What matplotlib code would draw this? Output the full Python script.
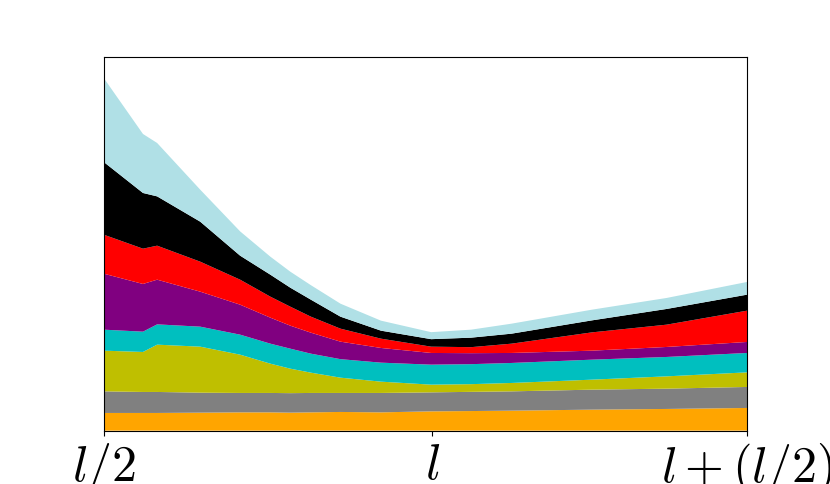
import numpy as np
import matplotlib.pyplot as plt

plt.rcParams['mathtext.fontset'] = 'cm'

# x positions (in units of l)
x = [0.5, 0.561, 0.583, 0.650, 0.712, 0.759, 0.790, 0.822, 0.868,
     0.931, 1.009, 1.071, 1.134, 1.259, 1.375, 1.5]

# upper edge of each layer (stacked, bottom to top)
orange_top = [17.7, 17.7, 17.7, 18, 18.3, 18.3, 18, 18.3, 18.7, 18.3, 19.3, 19.6, 20, 21, 21.7, 22.7]
gray_top = [39.3, 38.7, 38.7, 38, 37.7, 37.7, 37.5, 37.7, 37.7, 37.7, 38.3, 38.8, 39.3, 41, 42, 43.7]
olive_top = [80, 78.7, 86, 84, 76, 67, 62, 58, 53, 49, 46, 46.5, 47.7, 51, 54.3, 58.3]
cyan_top = [101, 99, 106.3, 104, 96, 87, 82, 77, 71.5, 68, 66, 66.5, 67.7, 71, 73.7, 77.7]
purple_top = [157, 146.7, 151, 139, 126, 113, 105, 98, 89, 82.7, 77.7, 77.5, 77.7, 80, 83.7, 88.7]
red_top = [196, 182, 185, 169, 151, 134, 124, 114, 102, 92, 84, 83.5, 87, 98.3, 106, 120]
black_top = [268.7, 237.7, 234.3, 209, 175, 156, 143, 131, 114, 100, 91.5, 93, 97, 110.3, 121.7, 136]
lb_top = [352.7, 296.7, 287.7, 241, 199.3, 174, 159, 145.5, 127, 110, 98.5, 101, 107, 121, 132.7, 148.7]

tick_pos = [0.5, 1.011, 1.5]
tick_labels = [r'$l/2$', r'$l$', r'$l+(l/2)$']

tops = [orange_top, gray_top, olive_top, cyan_top, purple_top, red_top, black_top, lb_top]
colors = ['orange', 'gray', 'y', 'c', 'purple', 'red', 'black', 'powderblue']

# layer thickness from the stacked edges
layers = np.diff(np.vstack([np.zeros(len(x))] + [np.array(t) for t in tops]), axis=0)

fig, ax = plt.subplots(figsize=(8.3, 4.85), dpi=100)
ax.stackplot(x, layers, colors=colors)

ax.set_xlim(0.5, 1.5)
ax.set_ylim(0, 373.5)
ax.set_yticks([])
ax.set_xticks(tick_pos)
ax.set_xticklabels(tick_labels, fontsize=36)

plt.savefig('out.png')
